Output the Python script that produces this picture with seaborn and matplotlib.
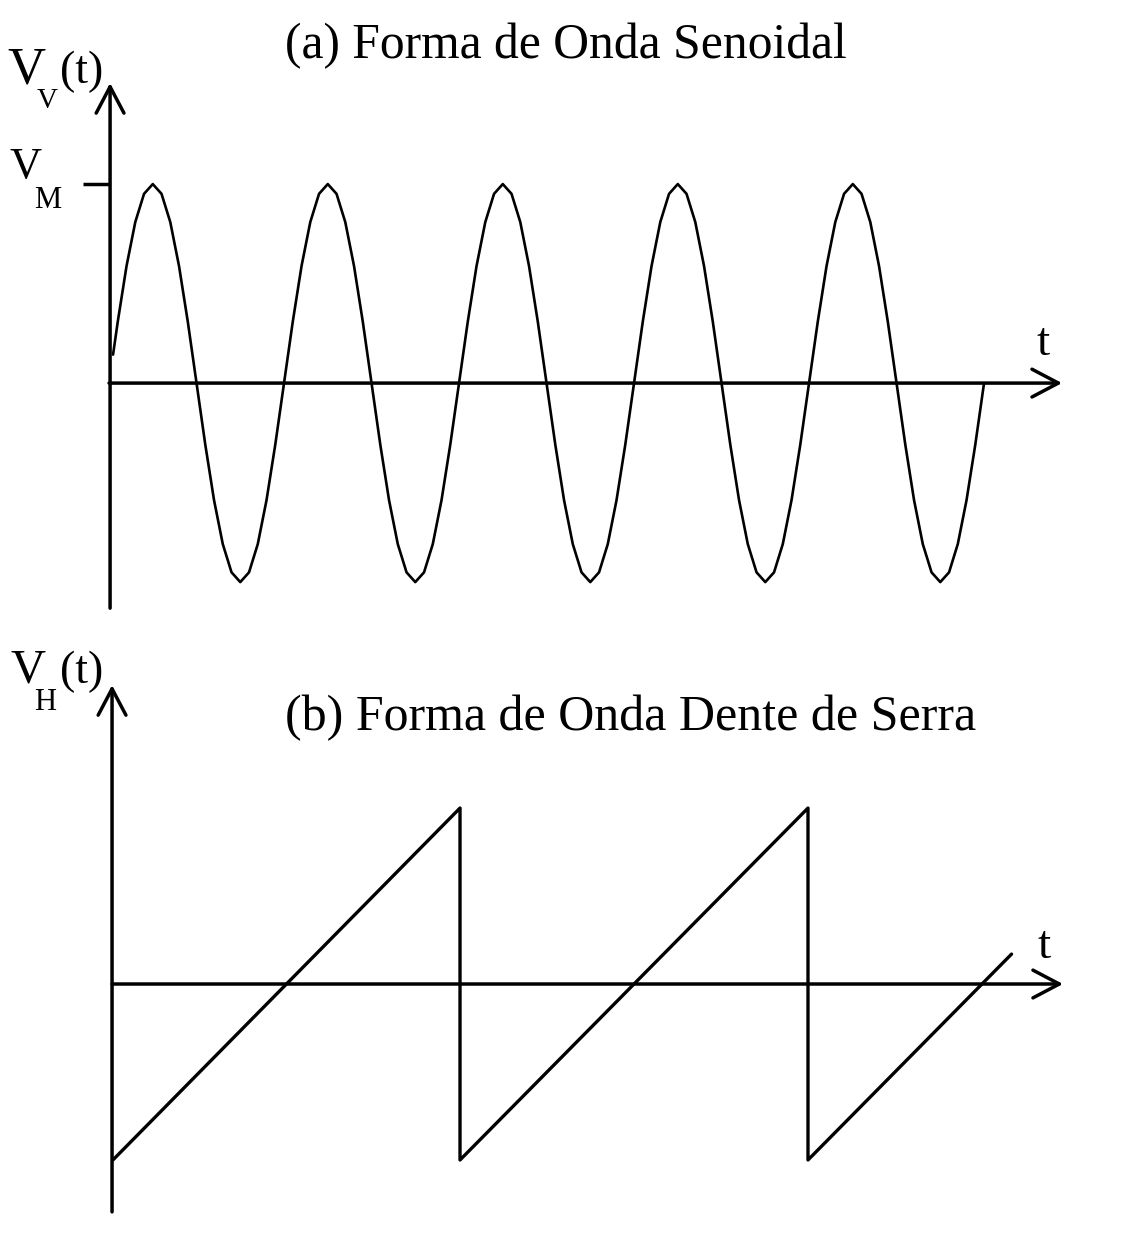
import matplotlib
matplotlib.use("Agg")
import matplotlib.pyplot as plt
import seaborn as sns
import pandas as pd

# ---------------- data ----------------
# (a) sinusoid: time in periods, value in units of V_M (polyline vertices)
sine_t = [0.023] + [k / 20 for k in range(1, 101)]
sine_v = [0.143, 0.309, 0.588, 0.809, 0.951, 1.0, 0.951, 0.809, 0.588, 0.309,
          0.0, -0.309, -0.588, -0.809, -0.951, -1.0, -0.951, -0.809, -0.588, -0.309,
          0.0, 0.309, 0.588, 0.809, 0.951, 1.0, 0.951, 0.809, 0.588, 0.309,
          0.0, -0.309, -0.588, -0.809, -0.951, -1.0, -0.951, -0.809, -0.588, -0.309,
          0.0, 0.309, 0.588, 0.809, 0.951, 1.0, 0.951, 0.809, 0.588, 0.309,
          0.0, -0.309, -0.588, -0.809, -0.951, -1.0, -0.951, -0.809, -0.588, -0.309,
          0.0, 0.309, 0.588, 0.809, 0.951, 1.0, 0.951, 0.809, 0.588, 0.309,
          0.0, -0.309, -0.588, -0.809, -0.951, -1.0, -0.951, -0.809, -0.588, -0.309,
          0.0, 0.309, 0.588, 0.809, 0.951, 1.0, 0.951, 0.809, 0.588, 0.309,
          0.0, -0.309, -0.588, -0.809, -0.951, -1.0, -0.951, -0.809, -0.588, -0.309,
          0.0]

# (b) sawtooth vertices (time, value)
saw_t = [0.005, 2.0, 2.0, 4.0, 4.0, 5.17]
saw_v = [-1.0, 1.0, -1.0, 1.0, -1.0, 0.17]

title_a = "(a) Forma de Onda Senoidal"
title_b = "(b) Forma de Onda Dente de Serra"
label_t = "t"
vm_level = 1.0

# ---------------- style ----------------
sns.set_theme(style="white")
plt.rcParams["font.family"] = ["Liberation Serif", "DejaVu Serif"]
plt.rcParams["text.color"] = "black"

W, H = 1137, 1233
fig = plt.figure(figsize=(W / 100, H / 100), dpi=100)
fig.patch.set_facecolor("white")

ax1 = fig.add_axes([0, 1 - 640 / H, 1, 640 / H])
ax2 = fig.add_axes([0, 0, 1, 593 / H])
for ax in (ax1, ax2):
    ax.set_facecolor("white")
    ax.axis("off")

ax1.set_xlim(-0.623, 5.874)
ax1.set_ylim(-1.291, 1.925)
ax2.set_xlim(-0.644, 5.891)
ax2.set_ylim(-1.415, 1.955)


def ftext(px, py, s, size):
    """Place text with its left/baseline at pixel position (px, py) from top-left."""
    fig.text(px / W, 1 - py / H, s, fontsize=size, ha="left", va="baseline",
             color="black")


AX_LW = 2.5
arrow_kw = dict(arrowstyle="->,head_length=0.95,head_width=0.5", lw=AX_LW,
                color="black", shrinkA=0, shrinkB=0, mutation_scale=20)

# ---- panel (a) ----
df_a = pd.DataFrame({"t": sine_t, "v": sine_v})
sns.lineplot(data=df_a, x="t", y="v", ax=ax1, estimator=None, sort=False,
             color="black", lw=1.9, legend=False)
ax1.annotate("", xy=(5.446, 0), xytext=(0, 0), arrowprops=arrow_kw)
ax1.annotate("", xy=(0.006, 1.508), xytext=(0.006, -1.131), arrowprops=arrow_kw)
ax1.plot([-0.149, 0.006], [vm_level, vm_level], color="black", lw=AX_LW,
         solid_capstyle="butt")
ax1.text(5.337, 0.141, label_t, fontsize=34, ha="center", va="baseline", color="black")

ftext(285, 58, title_a, 35.7)
# V_V(t)
ftext(7, 83, "V", 38)
ftext(37, 108, "V", 21)
ftext(60, 83, "(t)", 33)
# V_M
ftext(9, 178, "V", 32)
ftext(34, 208, "M", 22)

# ---- panel (b) ----
df_b = pd.DataFrame({"t": saw_t, "v": saw_v})
sns.lineplot(data=df_b, x="t", y="v", ax=ax2, estimator=None, sort=False,
             color="black", lw=2.4, legend=False)
ax2.annotate("", xy=(5.466, 0), xytext=(0, 0), arrowprops=arrow_kw)
ax2.annotate("", xy=(0.0, 1.699), xytext=(0.0, -1.295), arrowprops=arrow_kw)
ax2.text(5.356, 0.148, label_t, fontsize=34, ha="center", va="baseline", color="black")

ftext(285, 730, title_b, 36)
# V_H(t)
ftext(10, 683, "V", 35)
ftext(34, 710, "H", 22)
ftext(60, 683, "(t)", 33)

fig.savefig("out.png", dpi=100, facecolor="white")
